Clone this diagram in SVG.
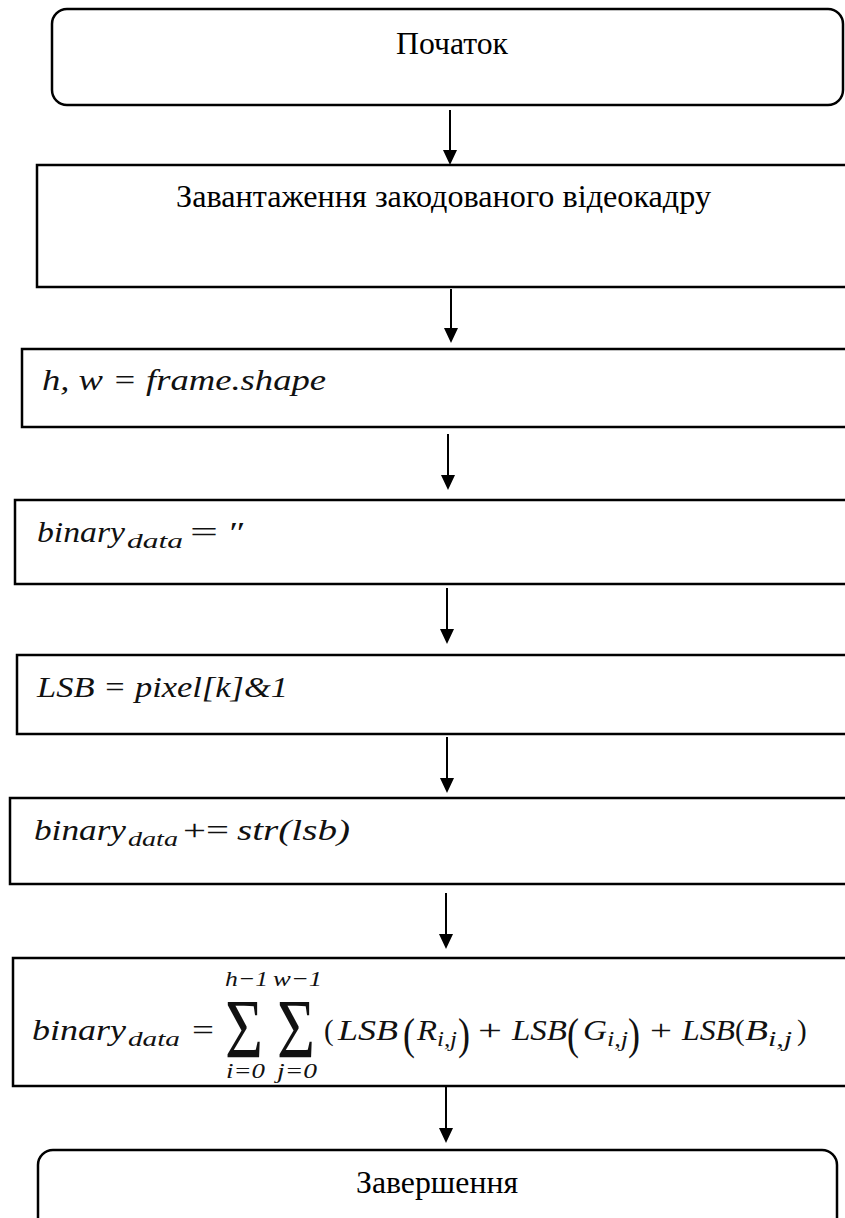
<svg xmlns="http://www.w3.org/2000/svg" width="845" height="1218" viewBox="0 0 845 1218">
<style>
.box{fill:#fff;stroke:#000;stroke-width:2.5}
.conn line{stroke:#000;stroke-width:2;fill:none}
.t{font-family:"Liberation Serif","Times New Roman",serif;font-size:31px;fill:#000}
.m{font-family:"Liberation Serif","Times New Roman",serif;font-style:italic;font-size:29px;fill:#111}
.s{font-size:22px}
.u{font-style:normal}
.big{font-size:85px;font-style:normal}
.par{font-size:44px;font-style:normal}
</style>
<defs>
<marker id="arrow" markerUnits="userSpaceOnUse" markerWidth="16" markerHeight="16" refX="3" refY="7" orient="auto">
<path d="M0,0 L15,7 L0,14 z" fill="#000"/>
</marker>
</defs>
<rect width="845" height="1218" fill="#fff"/>
<g class="conn">
<line x1="450" y1="110" x2="450" y2="153" marker-end="url(#arrow)"/>
<line x1="451" y1="289" x2="451" y2="331" marker-end="url(#arrow)"/>
<line x1="448" y1="434" x2="448" y2="478" marker-end="url(#arrow)"/>
<line x1="447" y1="588" x2="447" y2="632" marker-end="url(#arrow)"/>
<line x1="447" y1="737" x2="447" y2="781" marker-end="url(#arrow)"/>
<line x1="446" y1="893" x2="446" y2="937" marker-end="url(#arrow)"/>
<line x1="446" y1="1087" x2="446" y2="1131" marker-end="url(#arrow)"/>
</g>
<g id="start">
<rect class="box" x="52" y="9" width="791" height="96" rx="15"/>
<text class="t" x="396" y="54" textLength="112" lengthAdjust="spacingAndGlyphs">Початок</text>
</g>
<g id="load">
<rect class="box" x="37" y="165" width="820" height="122"/>
<text class="t" x="176" y="207" textLength="535" lengthAdjust="spacingAndGlyphs">Завантаження закодованого відеокадру</text>
</g>
<g id="shape">
<rect class="box" x="22" y="349" width="840" height="78"/>
<text class="m" x="42" y="390" textLength="284" lengthAdjust="spacingAndGlyphs">h, w = frame.shape</text>
</g>
<g id="init">
<rect class="box" x="15" y="500" width="840" height="84"/>
<text class="m" x="37" y="542" textLength="88" lengthAdjust="spacingAndGlyphs">binary</text>
<text class="m s" x="127" y="548" textLength="56" lengthAdjust="spacingAndGlyphs">data</text>
<text class="m u" x="190" y="542" textLength="28" lengthAdjust="spacingAndGlyphs">=</text>
<text class="m" x="227" y="542" textLength="16" lengthAdjust="spacingAndGlyphs">″</text>
</g>
<g id="lsb">
<rect class="box" x="17" y="655" width="840" height="79"/>
<text class="m" x="37" y="697" textLength="251" lengthAdjust="spacingAndGlyphs">LSB = pixel[k]&amp;1</text>
</g>
<g id="append">
<rect class="box" x="10" y="798" width="845" height="86"/>
<text class="m" x="34" y="840" textLength="92" lengthAdjust="spacingAndGlyphs">binary</text>
<text class="m s" x="128" y="846" textLength="50" lengthAdjust="spacingAndGlyphs">data</text>
<text class="m u" x="183" y="840" textLength="46" lengthAdjust="spacingAndGlyphs">+=</text>
<text class="m" x="237" y="840" textLength="113" lengthAdjust="spacingAndGlyphs">str(lsb)</text>
</g>
<g id="sum">
<rect class="box" x="13" y="958" width="845" height="128"/>
<text class="m" x="32" y="1040" textLength="94" lengthAdjust="spacingAndGlyphs">binary</text>
<text class="m s" x="128" y="1046" textLength="52" lengthAdjust="spacingAndGlyphs">data</text>
<text class="m u" x="192" y="1040" textLength="22" lengthAdjust="spacingAndGlyphs">=</text>
<text class="m big" x="225" y="1058" textLength="38" lengthAdjust="spacingAndGlyphs">Σ</text>
<text class="m big" x="277" y="1058" textLength="38" lengthAdjust="spacingAndGlyphs">Σ</text>
<text class="m s" x="225" y="986" textLength="43" lengthAdjust="spacingAndGlyphs">h−1</text>
<text class="m s" x="273" y="986" textLength="49" lengthAdjust="spacingAndGlyphs">w−1</text>
<text class="m s" x="226" y="1078" textLength="39" lengthAdjust="spacingAndGlyphs">i=0</text>
<text class="m s" x="277" y="1078" textLength="40" lengthAdjust="spacingAndGlyphs">j=0</text>
<text class="m u" x="324" y="1040">(</text>
<text class="m" x="338" y="1040" textLength="60" lengthAdjust="spacingAndGlyphs">LSB</text>
<text class="m par" x="403" y="1049" textLength="12" lengthAdjust="spacingAndGlyphs">(</text>
<text class="m" x="417" y="1040" textLength="20" lengthAdjust="spacingAndGlyphs">R</text>
<text class="m s" x="437" y="1046" textLength="20" lengthAdjust="spacingAndGlyphs">i,j</text>
<text class="m par" x="458" y="1049" textLength="12" lengthAdjust="spacingAndGlyphs">)</text>
<text class="m u" x="478" y="1040" textLength="24" lengthAdjust="spacingAndGlyphs">+</text>
<text class="m" x="512" y="1040" textLength="55" lengthAdjust="spacingAndGlyphs">LSB</text>
<text class="m par" x="567" y="1049" textLength="12" lengthAdjust="spacingAndGlyphs">(</text>
<text class="m" x="583" y="1040" textLength="24" lengthAdjust="spacingAndGlyphs">G</text>
<text class="m s" x="607" y="1046" textLength="21" lengthAdjust="spacingAndGlyphs">i,j</text>
<text class="m par" x="628" y="1049" textLength="12" lengthAdjust="spacingAndGlyphs">)</text>
<text class="m u" x="650" y="1040" textLength="22" lengthAdjust="spacingAndGlyphs">+</text>
<text class="m" x="682" y="1040" textLength="53" lengthAdjust="spacingAndGlyphs">LSB</text>
<text class="m u" x="735" y="1040">(</text>
<text class="m" x="745" y="1040" textLength="23" lengthAdjust="spacingAndGlyphs">B</text>
<text class="m s" x="768" y="1046" textLength="24" lengthAdjust="spacingAndGlyphs">i,j</text>
<text class="m u" x="797" y="1040">)</text>
</g>
<g id="end">
<rect class="box" x="38" y="1150" width="799" height="100" rx="15"/>
<text class="t" x="356" y="1193" textLength="162" lengthAdjust="spacingAndGlyphs">Завершення</text>
</g>
</svg>
